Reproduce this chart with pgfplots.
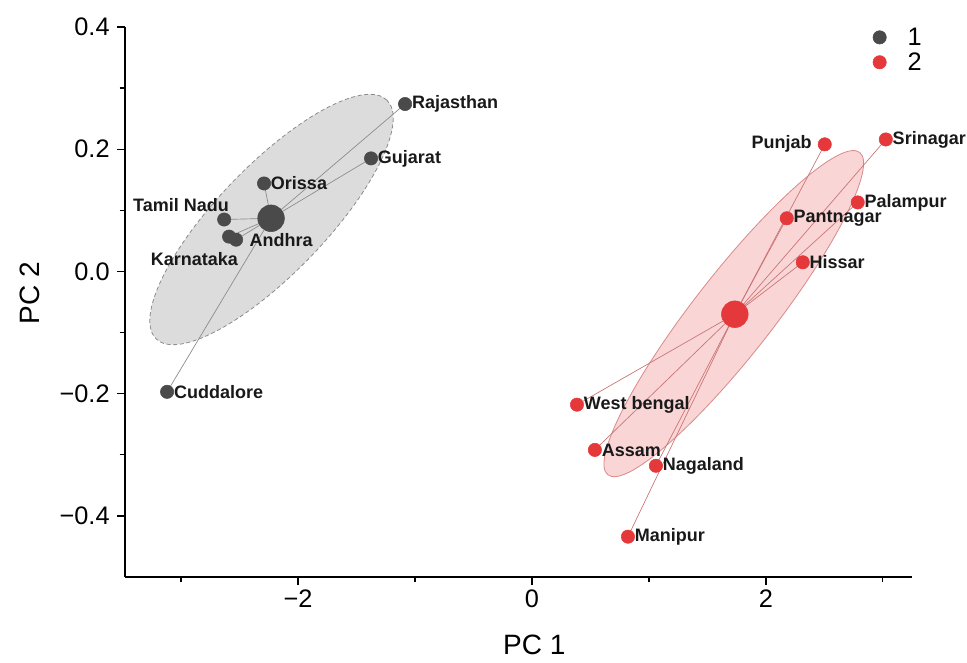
\documentclass[border=0pt]{standalone}
\usepackage{fontspec}
\setmainfont{Liberation Sans}
\usepackage{pgfplots}
\pgfplotsset{compat=1.18}
\definecolor{gpt}{HTML}{4A4A4A}
\definecolor{rpt}{HTML}{E5383B}
\definecolor{gfill}{HTML}{DCDCDC}
\definecolor{gedge}{HTML}{8C8C8C}
\definecolor{rfill}{HTML}{F9D5D5}
\definecolor{redge}{HTML}{D88A8A}
\definecolor{rline}{HTML}{C97373}
\definecolor{gline}{HTML}{8A8A8A}
\begin{document}
\begin{tikzpicture}
\begin{axis}[
  scale only axis, width=590.25pt, height=412.5pt,
  xmin=-3.48, xmax=3.25, ymin=-0.5, ymax=0.4,
  axis lines=left, axis line style={-, line width=1.1pt, black},
  tick align=outside, major tick length=6pt, minor tick length=4pt,
  tick style={line width=1pt, black},
  xtick={-2,0,2}, xticklabels={−2,0,2},
  ytick={-0.4,-0.2,0,0.2,0.4}, yticklabels={−0.4,−0.2,0.0,0.2,0.4},
  minor xtick={-3,-1,1,3}, minor ytick={-0.3,-0.1,0.1,0.3},
  ticklabel style={font=\fontsize{19}{21}\selectfont},
  yticklabel style={xshift=-2pt},
  xlabel={PC 1}, ylabel={PC 2},
  label style={font=\fontsize{21}{24}\selectfont},
  xlabel style={at={(axis description cs:0.52,-0.1236)}, anchor=center},
  ylabel style={at={(axis description cs:-0.1207,0.516)}, anchor=center},
  clip=false,
  legend style={draw=none, fill=none, at={(0.945,1.009)}, anchor=north west,
    font=\fontsize{19}{21}\selectfont, row sep=0pt, column sep=14pt},
  legend cell align=left,
]
% confidence ellipses
\fill[gfill, draw=gedge, densely dashed, line width=0.6pt,
  rotate around={46:(axis cs:-2.227,0.085)}]
  (axis cs:-2.227,0.085) ellipse [x radius=124.5pt, y radius=40.5pt];
\fill[rfill, draw=redge, line width=0.6pt,
  rotate around={52:(axis cs:1.726,-0.069)}]
  (axis cs:1.726,-0.069) ellipse [x radius=153.4pt, y radius=30pt];
% spokes group 1
\addplot[gline, line width=0.5pt, forget plot] coordinates {(-2.231,0.087) (-1.085,0.274)};
\addplot[gline, line width=0.5pt, forget plot] coordinates {(-2.231,0.087) (-1.376,0.185)};
\addplot[gline, line width=0.5pt, forget plot] coordinates {(-2.231,0.087) (-2.291,0.144)};
\addplot[gline, line width=0.5pt, forget plot] coordinates {(-2.231,0.087) (-2.632,0.085)};
\addplot[gline, line width=0.5pt, forget plot] coordinates {(-2.231,0.087) (-2.590,0.057)};
\addplot[gline, line width=0.5pt, forget plot] coordinates {(-2.231,0.087) (-2.530,0.052)};
\addplot[gline, line width=0.5pt, forget plot] coordinates {(-2.231,0.087) (-3.120,-0.197)};
% spokes group 2
\addplot[rline, line width=0.5pt, forget plot] coordinates {(1.735,-0.070) (2.504,0.208)};
\addplot[rline, line width=0.5pt, forget plot] coordinates {(1.735,-0.070) (3.026,0.216)};
\addplot[rline, line width=0.5pt, forget plot] coordinates {(1.735,-0.070) (2.786,0.113)};
\addplot[rline, line width=0.5pt, forget plot] coordinates {(1.735,-0.070) (2.179,0.087)};
\addplot[rline, line width=0.5pt, forget plot] coordinates {(1.735,-0.070) (2.316,0.015)};
\addplot[rline, line width=0.5pt, forget plot] coordinates {(1.735,-0.070) (0.385,-0.218)};
\addplot[rline, line width=0.5pt, forget plot] coordinates {(1.735,-0.070) (0.538,-0.292)};
\addplot[rline, line width=0.5pt, forget plot] coordinates {(1.735,-0.070) (1.060,-0.318)};
\addplot[rline, line width=0.5pt, forget plot] coordinates {(1.735,-0.070) (0.821,-0.434)};
% points
\addplot[only marks, mark=*, mark size=5pt, mark options={draw=gpt, fill=gpt}] coordinates {
 (-1.085,0.274) (-1.376,0.185) (-2.291,0.144) (-2.632,0.085)
 (-2.590,0.057) (-2.530,0.052) (-3.120,-0.197)};
\addlegendentry{1}
\addplot[only marks, mark=*, mark size=5pt, mark options={draw=rpt, fill=rpt}] coordinates {
 (2.504,0.208) (3.026,0.216) (2.786,0.113) (2.179,0.087) (2.316,0.015)
 (0.385,-0.218) (0.538,-0.292) (1.060,-0.318) (0.821,-0.434)};
\addlegendentry{2}
% centroids
\addplot[only marks, mark=*, mark size=10pt, mark options={draw=gpt, fill=gpt}, forget plot] coordinates {(-2.231,0.087)};
\addplot[only marks, mark=*, mark size=10pt, mark options={draw=rpt, fill=rpt}, forget plot] coordinates {(1.735,-0.070)};
% labels
\begin{scope}[every node/.style={font=\fontsize{13.5}{15}\selectfont\bfseries, inner sep=0pt, text=black!90}]
\node[anchor=west, xshift=5pt] at (axis cs:-1.085,0.274) {Rajasthan};
\node[anchor=west, xshift=5pt] at (axis cs:-1.376,0.185) {Gujarat};
\node[anchor=west, xshift=5pt] at (axis cs:-2.291,0.144) {Orissa};
\node[anchor=east, xshift=3.75pt, yshift=11pt] at (axis cs:-2.632,0.085) {Tamil Nadu};
\node[anchor=east, xshift=6.75pt, yshift=-16.5pt] at (axis cs:-2.590,0.057) {Karnataka};
\node[anchor=west, xshift=10pt] at (axis cs:-2.530,0.052) {Andhra};
\node[anchor=west, xshift=5pt] at (axis cs:-3.120,-0.197) {Cuddalore};
\node[anchor=east, xshift=-9.75pt] at (axis cs:2.504,0.208) {Punjab};
\node[anchor=west, xshift=5pt] at (axis cs:3.026,0.216) {Srinagar};
\node[anchor=west, xshift=5pt] at (axis cs:2.786,0.113) {Palampur};
\node[anchor=west, xshift=5pt] at (axis cs:2.179,0.087) {Pantnagar};
\node[anchor=west, xshift=5pt] at (axis cs:2.316,0.015) {Hissar};
\node[anchor=west, xshift=5pt] at (axis cs:0.385,-0.218) {West bengal};
\node[anchor=west, xshift=5pt] at (axis cs:0.538,-0.292) {Assam};
\node[anchor=west, xshift=5pt] at (axis cs:1.060,-0.318) {Nagaland};
\node[anchor=west, xshift=5pt] at (axis cs:0.821,-0.434) {Manipur};
\end{scope}
\end{axis}
\pgfresetboundingbox
\useasboundingbox (-93.75pt,-63.75pt) rectangle (631.5pt,432.75pt);
\end{tikzpicture}
\end{document}
